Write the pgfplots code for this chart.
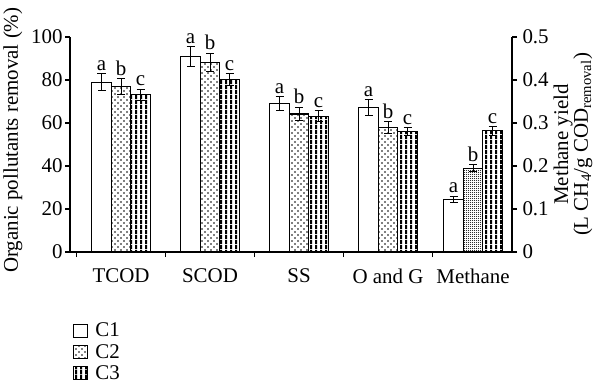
\documentclass[border=0pt]{standalone}
\usepackage{fontspec}
\setmainfont{Liberation Serif}
\usepackage{pgfplots}
\pgfplotsset{compat=1.18}
\usepackage{pgfplotstable}
\usetikzlibrary{patterns}

\pgfdeclarepatternformonly{sdots}{\pgfpoint{-1bp}{-1bp}}{\pgfpoint{7bp}{7bp}}{\pgfpoint{6bp}{6bp}}{%
  \pgfpathcircle{\pgfpoint{1bp}{1bp}}{0.85bp}%
  \pgfpathcircle{\pgfpoint{4bp}{4bp}}{0.85bp}%
  \pgfusepath{fill}}
\pgfdeclarepatternformonly{fdots}{\pgfpoint{-1bp}{-1bp}}{\pgfpoint{3bp}{3bp}}{\pgfpoint{2bp}{2bp}}{%
  \pgfpathcircle{\pgfpoint{0.5bp}{0.5bp}}{0.5bp}%
  \pgfusepath{fill}}
\pgfdeclarepatternformonly{vstripes}{\pgfpointorigin}{\pgfpoint{5bp}{5bp}}{\pgfpoint{5bp}{5bp}}{%
  \pgfpathrectangle{\pgfpointorigin}{\pgfpoint{2.5bp}{5bp}}%
  \pgfusepath{fill}}

\pgfplotstableread{
x y e
0 79.0 4.0
1 91.0 4.6
2 69.0 3.3
3 67.2 3.6
}\dataA
\pgfplotstableread{
x y e
0 77.0 3.6
1 88.2 4.3
2 64.2 3.2
3 57.9 2.8
}\dataB
\pgfplotstableread{
x y e
0 73.1 2.6
1 80.1 2.8
2 63.1 2.5
3 56.0 1.9
}\dataC
\pgfplotstableread{
x y e
3.955 0.123 0.007
}\methA
\pgfplotstableread{
x y e
3.955 0.195 0.0085
}\methB
\pgfplotstableread{
x y e
3.955 0.282 0.010
}\methC

\newcommand{\fs}{\fontsize{21}{21}\selectfont}
\tikzset{lab/.style={anchor=south, inner sep=0pt, yshift=3bp, font=\fs}}

\pgfplotsset{
  common/.style={
    at={(70bp,137bp)}, anchor=south west,
    scale only axis, width=442bp, height=215bp,
    xmin=-0.573, xmax=4.393, clip=false,
    ybar, bar width=19.5bp,
    tick align=outside, major tick length=5bp,
    axis line style={line width=1.1bp, black},
    tick style={line width=1.1bp, black},
    tick label style={font=\fs},
    label style={font=\fs},
    /pgf/number format/assume math mode=true,
    error bars/y dir=both, error bars/y explicit,
    error bars/error bar style={line width=1bp, black},
    error bars/error mark options={black, mark size=4bp, line width=1bp, rotate=90},
  },
}

\begin{document}
\begin{tikzpicture}
\useasboundingbox (0,0) rectangle (598bp,389bp);
\begin{axis}[common,
  ymin=0, ymax=100,
  axis x line*=bottom, axis y line*=left,
  xtick={-0.5,0.5,1.5,2.5,3.5}, xticklabels={,,,,},
  extra x ticks={0,1,2,3,3.955},
  extra x tick labels={TCOD,SCOD,SS,O and G,Methane},
  extra x tick style={major tick length=0pt, xticklabel style={yshift=-13bp}},
  ytick={0,20,...,100},
  yticklabel style={xshift=1bp},
  ylabel={Organic pollutants removal (\%)},
  ylabel style={at={(axis description cs:-0.129,0.52)}, anchor=center},
  legend style={draw=none, fill=none, at={(0.007,-0.32)}, anchor=north west,
    inner sep=0pt, row sep=2bp, font=\fs, legend cell align=left},
  legend image code/.code={\draw[#1, line width=1bp] (0bp,-6.5bp) rectangle (14bp,6.5bp); \path (19bp,0bp);},
]
\addplot[draw=black, line width=1.1bp, fill=white, bar shift=-19.5bp]
  table[x=x, y=y, y error=e]{\dataA};
\addplot[draw=black, line width=1.1bp, pattern=sdots, bar shift=0bp]
  table[x=x, y=y, y error=e]{\dataB};
\addplot[draw=black, line width=1.1bp, pattern=vstripes, bar shift=19.5bp]
  table[x=x, y=y, y error=e]{\dataC};
\legend{C1,C2,C3}
\node[lab, xshift=-19.5bp] at (axis cs:0,83.0) {a};
\node[lab] at (axis cs:0,80.6) {b};
\node[lab, xshift=19.5bp] at (axis cs:0,75.7) {c};
\node[lab, xshift=-19.5bp] at (axis cs:1,95.6) {a};
\node[lab] at (axis cs:1,92.5) {b};
\node[lab, xshift=19.5bp] at (axis cs:1,82.9) {c};
\node[lab, xshift=-19.5bp] at (axis cs:2,72.3) {a};
\node[lab] at (axis cs:2,67.4) {b};
\node[lab, xshift=19.5bp] at (axis cs:2,65.6) {c};
\node[lab, xshift=-19.5bp] at (axis cs:3,70.8) {a};
\node[lab] at (axis cs:3,60.7) {b};
\node[lab, xshift=19.5bp] at (axis cs:3,57.9) {c};
\end{axis}
\begin{axis}[common,
  ymin=0, ymax=0.5,
  axis x line=none, axis y line*=right,
  ytick={0,0.1,...,0.5},
  yticklabel style={/pgf/number format/fixed, /pgf/number format/precision=1, xshift=2bp},
  ylabel={Methane yield\\(L CH\textsubscript{4}/g COD\textsubscript{removal})},
  ylabel style={at={(axis description cs:1.138,0.5)}, anchor=center, align=center,
    font=\fontsize{21}{20}\selectfont},
]
\addplot[draw=black, line width=1.1bp, fill=white, bar shift=-19.5bp]
  table[x=x, y=y, y error=e]{\methA};
\addplot[draw=black, line width=1.1bp, pattern=fdots, bar shift=0bp]
  table[x=x, y=y, y error=e]{\methB};
\addplot[draw=black, line width=1.1bp, pattern=vstripes, bar shift=19.5bp]
  table[x=x, y=y, y error=e]{\methC};
\node[lab, xshift=-19.5bp] at (axis cs:3.955,0.130) {a};
\node[lab] at (axis cs:3.955,0.2035) {b};
\node[lab, xshift=19.5bp] at (axis cs:3.955,0.292) {c};
\end{axis}
\end{tikzpicture}
\end{document}
